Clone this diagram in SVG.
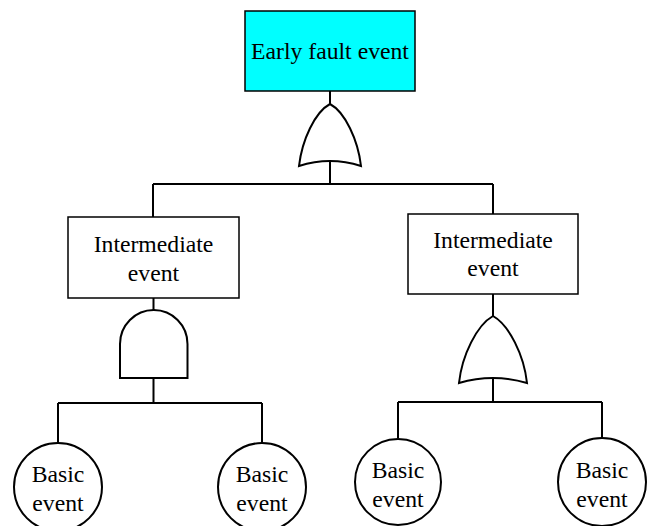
<svg xmlns="http://www.w3.org/2000/svg" width="649" height="526" viewBox="0 0 649 526">
<style>
.box{fill:#fff;stroke:#000;stroke-width:1.5}
.top{fill:#00FFFF;stroke:#000;stroke-width:1.5}
.gate{fill:#fff;stroke:#000;stroke-width:2}
.ln{fill:none;stroke:#000;stroke-width:2}
text{font-family:"Liberation Serif","Times New Roman",serif;font-size:23.7px;fill:#000;text-anchor:middle}
</style>
<rect width="649" height="526" fill="#fff"/>
<g id="connectors">
<path class="ln" d="M330 91V104M330 161V184M153 184H493M153 184V217M493 184V214"/>
<path class="ln" d="M153.5 298V310M153.5 378V403M58 403H262M58 403V443M262 403V443"/>
<path class="ln" d="M493 294V316M493 378V402M398 402H602M398 402V438M602 402V438"/>
</g>
<g id="top-event">
<rect class="top" x="245" y="11" width="170" height="80"/>
<text x="330" y="59">Early fault event</text>
</g>
<g id="or-gate-top">
<path class="gate" d="M330 104C315 112 302 140 299 166Q330 156 361 166C358 140 345 112 330 104Z"/>
</g>
<g id="intermediate-left">
<rect class="box" x="68" y="217" width="171" height="81"/>
<text x="153.5" y="252">Intermediate</text>
<text x="153.5" y="281">event</text>
</g>
<g id="and-gate-left">
<path class="gate" d="M120 378V344A33.75 34 0 0 1 187.5 344V378Z"/>
</g>
<g id="intermediate-right">
<rect class="box" x="408" y="214" width="170" height="80"/>
<text x="493" y="248">Intermediate</text>
<text x="493" y="276">event</text>
</g>
<g id="or-gate-right">
<path class="gate" d="M493 316C477 325 462 355 459 383Q493 373 527 383C524 355 509 325 493 316Z"/>
</g>
<g id="basic-1">
<circle class="gate" cx="58" cy="487" r="44"/>
<text x="58" y="482">Basic</text>
<text x="58" y="511">event</text>
</g>
<g id="basic-2">
<circle class="gate" cx="262" cy="487" r="44"/>
<text x="262" y="482">Basic</text>
<text x="262" y="511">event</text>
</g>
<g id="basic-3">
<circle class="gate" cx="398" cy="482" r="43"/>
<text x="398" y="478">Basic</text>
<text x="398" y="507">event</text>
</g>
<g id="basic-4">
<circle class="gate" cx="602" cy="482" r="44"/>
<text x="602" y="478">Basic</text>
<text x="602" y="507">event</text>
</g>
</svg>
